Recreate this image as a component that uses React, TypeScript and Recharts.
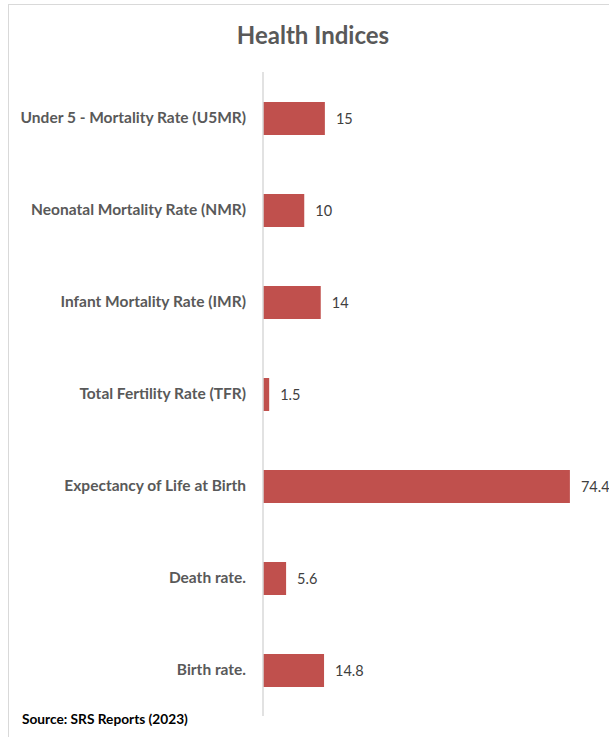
import React from 'react';
import { BarChart, Bar, XAxis, YAxis, LabelList } from 'recharts';

const categories = [
  'Under 5 - Mortality Rate (U5MR)',
  'Neonatal Mortality Rate (NMR)',
  'Infant Mortality Rate (IMR)',
  'Total Fertility Rate (TFR)',
  'Expectancy of Life at Birth',
  'Death rate.',
  'Birth rate.',
];
const values = [15, 10, 14, 1.5, 74.4, 5.6, 14.8];

const data = categories.map((name, i) => ({ name, value: values[i] }));

const FONT = 'Lato, Carlito, "Open Sans", sans-serif';

const CatTick = (props: any) => {
  const { x, y, payload } = props;
  return (
    <text x={x - 9} y={y} dy={5} textAnchor="end" fill="#595959" fontFamily={FONT} fontWeight={700} fontSize={15.5}>
      {payload.value}
    </text>
  );
};

export default function App() {
  return (
    <div style={{ position: 'absolute', left: 0, top: 0, width: 609, height: 737, background: '#fff', overflow: 'hidden' }}>
      <div style={{ position: 'absolute', left: 8, top: 4, width: 620, height: 760, border: '1px solid #d9d9d9', boxSizing: 'border-box' }} />
      <div style={{ position: 'absolute', left: 0, top: 20, width: 626, textAlign: 'center', fontFamily: FONT, fontWeight: 700, fontSize: 24, color: '#595959' }}>
        Health Indices
      </div>
      <div style={{ position: 'absolute', left: 0, top: 0 }}>
        <BarChart width={609} height={737} data={data} layout="vertical" margin={{ top: 72, right: 16, bottom: 21, left: 0 }}>
          <XAxis type="number" domain={[0, 80]} hide />
          <YAxis type="category" dataKey="name" width={263} tickLine={false} axisLine={{ stroke: '#d9d9d9', strokeWidth: 1.5 }} tick={<CatTick />} interval={0} />
          <Bar dataKey="value" fill="#C0504D" barSize={33} isAnimationActive={false}>
            <LabelList dataKey="value" position="right" offset={11} fill="#404040" fontFamily={FONT} fontSize={14.5} />
          </Bar>
        </BarChart>
      </div>
      <div style={{ position: 'absolute', left: 22, top: 710, fontFamily: FONT, fontWeight: 700, fontSize: 13.7, color: '#000' }}>
        Source: SRS Reports (2023)
      </div>
    </div>
  );
}
